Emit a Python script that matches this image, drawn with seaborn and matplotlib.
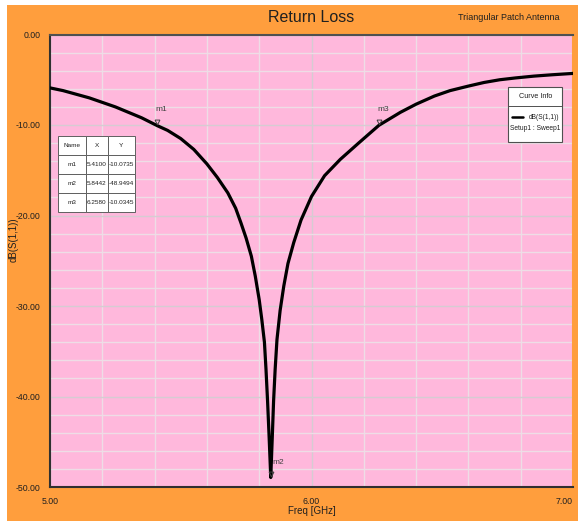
import numpy as np
import pandas as pd
import matplotlib
matplotlib.use("Agg")
import matplotlib.pyplot as plt
from matplotlib.patches import Rectangle
from matplotlib.transforms import ScaledTranslation
from matplotlib.ticker import MultipleLocator, FormatStrFormatter
import seaborn as sns

# ---- data ----
freq_ghz = [5.00, 5.05, 5.10, 5.15, 5.20, 5.25, 5.30, 5.35, 5.41, 5.45, 5.50,
            5.55, 5.60, 5.64, 5.68, 5.71, 5.73, 5.75, 5.77, 5.785, 5.80, 5.81,
            5.82, 5.826, 5.832, 5.838, 5.8442, 5.85, 5.855, 5.861, 5.868, 5.88,
            5.894, 5.91, 5.932, 5.96, 6.00, 6.05, 6.11, 6.18, 6.258, 6.34, 6.40,
            6.47, 6.53, 6.60, 6.66, 6.72, 6.78, 6.85, 6.92, 7.00]
s11_db = [-5.9, -6.2, -6.6, -7.0, -7.5, -8.0, -8.6, -9.2, -10.07, -10.6, -11.5,
          -12.7, -14.3, -15.8, -17.5, -19.2, -20.8, -22.5, -24.5, -26.7, -29.3, -31.5,
          -34.0, -37.0, -40.5, -44.5, -48.95, -44.5, -40.5, -37.0, -33.7, -30.5,
          -27.8, -25.3, -23.0, -20.5, -17.9, -15.6, -13.8, -12.0, -10.03, -8.6, -7.7,
          -6.8, -6.2, -5.7, -5.3, -5.0, -4.8, -4.6, -4.45, -4.3]

marker_names = ["m1", "m2", "m3"]
marker_x = [5.4100, 5.8442, 6.2580]
marker_y = [-10.0735, -48.9494, -10.0345]

x_ticks = [5.0, 6.0, 7.0]
x_ticklabels = ["5.00", "6.00", "7.00"]

title = "Return Loss"
subtitle = "Triangular Patch Antenna"
xlabel = "Freq [GHz]"
ylabel = "dB(S(1,1))"
legend_title = "Curve Info"
legend_label = "dB(S(1,1))"
legend_sub = "Setup1 : Sweep1"

df = pd.DataFrame({"Freq": freq_ghz, "S11": s11_db})

sns.set_style("white")
plt.rcParams["font.family"] = ["Liberation Sans", "DejaVu Sans"]

ORANGE = "#FF9E3D"
PINK = "#FFB8DC"

W, H = 578, 521
fig = plt.figure(figsize=(W / 100, H / 100), dpi=100, facecolor="white")
fig.patches.append(Rectangle((7 / W, 0), 1 - 7 / W, 1 - 5 / H, transform=fig.transFigure,
                             facecolor=ORANGE, edgecolor="none", zorder=-10))

L, R, T, B = 50, 573, 34.5, 487
ax = fig.add_axes([L / W, 1 - B / H, (R - L) / W, (B - T) / H])
ax.set_zorder(1)
ax.set_facecolor(PINK)

sns.lineplot(data=df, x="Freq", y="S11", ax=ax, color="black", linewidth=2.3,
             legend=False, zorder=5)

ax.set_xlim(5.0, 7.0)
ax.set_ylim(-50, 0)
ax.set_xticks(x_ticks, x_ticklabels)
ax.xaxis.set_minor_locator(MultipleLocator(0.2))
ax.yaxis.set_major_locator(MultipleLocator(10))
ax.yaxis.set_minor_locator(MultipleLocator(2))
ax.yaxis.set_major_formatter(FormatStrFormatter("%.2f"))
ax.grid(True, which="major", color="#D6CCD2", linewidth=1.0, zorder=1)
ax.grid(True, which="minor", color="#EEDDE6", linewidth=1.0, zorder=1)
ax.set_axisbelow(True)
ax.tick_params(axis="both", which="major", direction="out", length=6, width=1.2,
               color="#202020", labelsize=6.3, pad=1, labelcolor="#202020")
ax.tick_params(axis="both", which="minor", direction="out", length=4, width=1.0,
               color="#202020")
for s in ax.spines.values():
    s.set_color("#303030")
    s.set_linewidth(1.5)
ax.spines["top"].set_color("#505050")
ax.spines["right"].set_color(ORANGE)

ax.get_xticklabels()[-1].set_horizontalalignment("right")

ax.set_xlabel(xlabel, fontsize=7, labelpad=0, color="#202020")
ax.set_ylabel(ylabel, fontsize=7, color="#202020")
ax.yaxis.set_label_coords((19 - L) / (R - L), (B - 240) / (B - T))

fig.text(311 / W, 1 - 17 / H, title, ha="center", va="center", fontsize=11.5, color="#202020")
fig.text(560 / W, 1 - 17 / H, subtitle, ha="right", va="center", fontsize=6.5, color="#202020")

# markers
off = ScaledTranslation(0, 2.5 / 72, fig.dpi_scale_trans)
ax.plot(marker_x, marker_y, linestyle="none", marker="v", markersize=3.5,
        markerfacecolor="none", markeredgecolor="#404040", markeredgewidth=0.7,
        transform=ax.transData + off, zorder=6)
for n, mx, my in zip(marker_names, marker_x, marker_y):
    if n == "m2":
        ax.annotate(n, (mx, my), xytext=(1, 8), textcoords="offset points",
                    fontsize=6, color="#404040", ha="left", va="bottom", zorder=7)
    else:
        ax.annotate(n, (mx, my), xytext=(-1, 9), textcoords="offset points",
                    fontsize=6, color="#404040", ha="left", va="bottom", zorder=7)

# marker table
cell_text = [["Name", "X", "Y"]] + [[n, f"{x:.4f}", f"{y:.4f}"]
                                    for n, x, y in zip(marker_names, marker_x, marker_y)]
tx0 = (58.3 - L) / (R - L)
tx1 = (135 - L) / (R - L)
ty1 = (B - 135.7) / (B - T)
ty0 = (B - 212.3) / (B - T)
tbl = ax.table(cellText=cell_text, cellLoc="center",
               colWidths=[27.4, 22, 27.3],
               bbox=[tx0, ty0, tx1 - tx0, ty1 - ty0], zorder=8)
tbl.auto_set_font_size(False)
tbl.set_fontsize(4.6)
for (r, c), cell in tbl.get_celld().items():
    cell.set_facecolor("white")
    cell.set_edgecolor("#606060")
    cell.set_linewidth(0.7)
    cell.PAD = 0.02
    cell.get_text().set_color("#202020")

# curve info box
def ax_xy(px, py):
    return ((px - L) / (R - L), (B - py) / (B - T))

x0, y0 = ax_xy(508.3, 142.3)
x1, y1 = ax_xy(562.3, 86.7)
ax.add_patch(Rectangle((x0, y0), x1 - x0, y1 - y0, transform=ax.transAxes,
                       facecolor="white", edgecolor="#505050", linewidth=0.8, zorder=8))
_, ysep = ax_xy(0, 105.7)
ax.plot([x0, x1], [ysep, ysep], transform=ax.transAxes, color="#505050", lw=0.7, zorder=9)
cx, cy = ax_xy(535.3, 96)
ax.text(cx, cy, legend_title, transform=ax.transAxes, ha="center", va="center",
        fontsize=5.2, color="#202020", zorder=9)
lx0, ly = ax_xy(512, 117.3)
lx1, _ = ax_xy(523, 117.3)
ax.plot([lx0, lx1], [ly, ly], transform=ax.transAxes, color="black", lw=1.8, zorder=9)
tx, _ = ax_xy(559, 0)
ax.text(tx, ly, legend_label, transform=ax.transAxes, ha="right", va="center",
        fontsize=4.8, color="#202020", zorder=9)
sx, sy = ax_xy(535.3, 128.7)
ax.text(sx, sy, legend_sub, transform=ax.transAxes, ha="center", va="center",
        fontsize=4.8, color="#202020", zorder=9)

fig.savefig("out.png", dpi=100, facecolor=fig.get_facecolor())
